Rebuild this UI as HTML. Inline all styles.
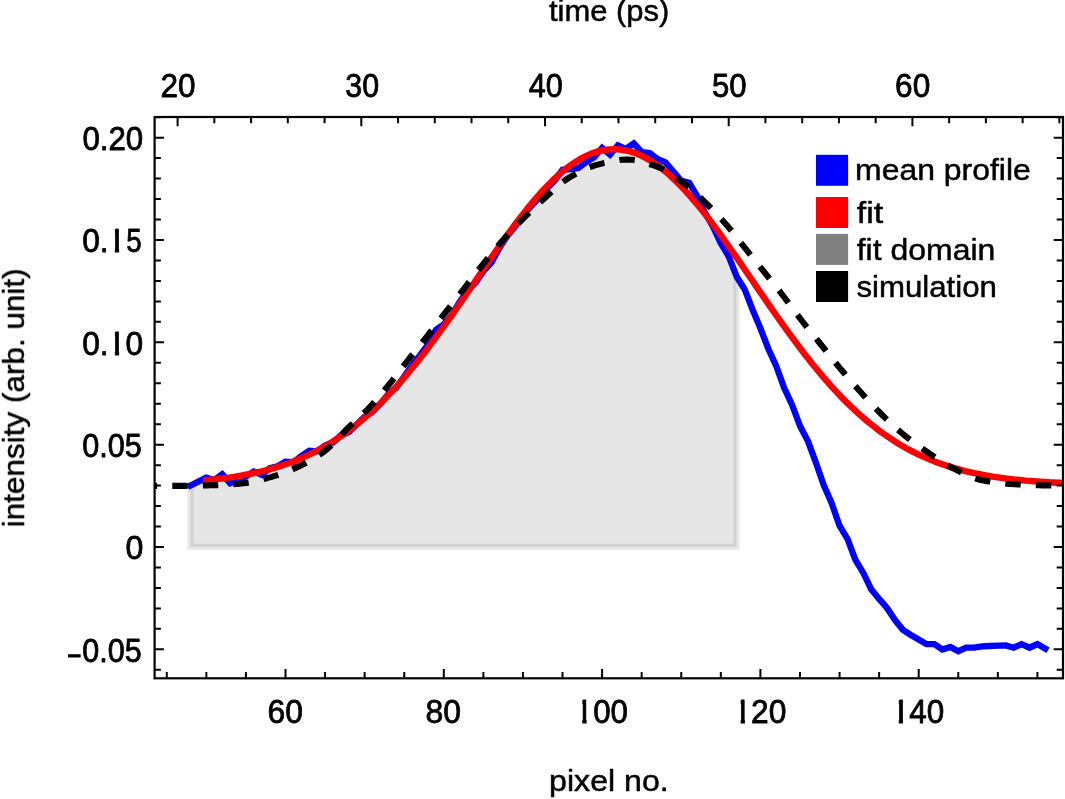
<!DOCTYPE html>
<html lang="en"><head><meta charset="utf-8"><title>intensity profile</title>
<style>html,body{margin:0;padding:0;background:#fff;}svg{display:block;}text{font-family:"Liberation Sans",sans-serif;fill:#000;stroke:#000;stroke-linejoin:round;}</style></head><body>
<svg width="1065" height="799" viewBox="0 0 1065 799">
<rect width="1065" height="799" fill="#fff"/>
<defs><clipPath id="plot"><rect x="154.6" y="117.0" width="908.4" height="561.3"/></clipPath></defs>
<g clip-path="url(#plot)" fill="none" stroke-linejoin="miter">
<polygon points="190.6,546.8 190.6,485.6 198.4,481.6 206.3,477.6 214.3,480.0 222.2,474.2 230.1,483.2 238.0,480.4 245.9,476.6 253.8,471.5 261.8,474.9 269.7,468.2 277.6,466.3 285.5,461.6 293.4,462.2 301.3,456.0 309.2,450.7 317.2,451.3 325.1,445.6 333.0,442.5 340.9,435.2 348.8,432.1 356.7,424.4 364.6,416.8 372.6,411.7 380.5,403.7 388.4,394.1 396.3,387.6 404.2,376.6 412.1,365.1 420.1,355.2 428.0,344.5 435.9,329.9 443.8,324.4 451.7,315.3 459.6,301.9 467.5,290.9 475.5,282.8 483.4,271.2 491.3,262.7 499.2,248.3 507.1,236.2 515.0,226.5 523.0,215.1 530.9,206.3 538.8,198.0 546.7,188.4 554.6,180.6 562.5,169.8 570.4,169.0 578.4,167.9 586.3,162.0 594.2,157.0 602.1,148.0 610.0,154.6 617.9,145.4 625.8,148.8 633.8,143.4 641.7,152.2 649.6,153.0 657.5,159.0 665.4,162.3 673.3,171.5 681.2,180.8 689.2,182.8 697.1,196.0 705.0,212.9 712.9,226.4 720.8,243.3 728.7,256.3 736.4,276.7 736.4,546.8" fill="#808080" fill-opacity="0.2" stroke="#808080" stroke-opacity="0.2" stroke-width="6" stroke-linejoin="miter"/>
<polyline points="190.5,485.6 198.4,481.6 206.3,477.6 214.3,480.0 222.2,474.2 230.1,483.2 238.0,480.4 245.9,476.6 253.8,471.5 261.8,474.9 269.7,468.2 277.6,466.3 285.5,461.6 293.4,462.2 301.3,456.0 309.2,450.7 317.2,451.3 325.1,445.6 333.0,442.5 340.9,435.2 348.8,432.1 356.7,424.4 364.6,416.8 372.6,411.7 380.5,403.7 388.4,394.1 396.3,387.6 404.2,376.6 412.1,365.1 420.1,355.2 428.0,344.5 435.9,329.9 443.8,324.4 451.7,315.3 459.6,301.9 467.5,290.9 475.5,282.8 483.4,271.2 491.3,262.7 499.2,248.3 507.1,236.2 515.0,226.5 523.0,215.1 530.9,206.3 538.8,198.0 546.7,188.4 554.6,180.6 562.5,169.8 570.4,169.0 578.4,167.9 586.3,162.0 594.2,157.0 602.1,148.0 610.0,154.6 617.9,145.4 625.8,148.8 633.8,143.4 641.7,152.2 649.6,153.0 657.5,159.0 665.4,162.3 673.3,171.5 681.2,180.8 689.2,182.8 697.1,196.0 705.0,212.9 712.9,226.4 720.8,243.3 728.7,256.3 736.7,276.7 744.6,289.2 752.5,309.5 760.4,328.3 768.3,348.7 776.2,365.9 784.1,387.8 792.1,405.0 800.0,426.0 807.9,441.1 815.8,462.3 823.7,485.1 831.6,503.0 839.5,525.7 847.5,538.8 855.4,559.9 863.3,572.9 871.2,589.2 879.1,598.9 887.0,608.0 895.0,620.1 902.9,629.8 910.8,635.0 918.7,639.5 926.6,644.1 934.5,644.1 942.4,649.6 950.4,647.0 958.3,651.2 966.2,647.7 974.1,647.7 982.0,646.4 989.9,646.0 997.9,645.7 1005.8,645.4 1013.7,647.7 1021.6,644.1 1029.5,647.7 1037.4,644.1 1045.3,648.6" stroke="#0000ff" stroke-width="6.3" stroke-linecap="square" stroke-linejoin="miter" stroke-miterlimit="3"/>
<polyline points="206.3,480.2 210.3,479.8 214.3,479.4 218.2,478.9 222.2,478.5 226.1,477.9 230.1,477.4 234.1,476.8 238.0,476.1 242.0,475.5 245.9,474.7 249.9,473.9 253.8,473.1 257.8,472.2 261.8,471.3 265.7,470.3 269.7,469.2 273.6,468.1 277.6,466.9 281.5,465.6 285.5,464.3 289.5,462.9 293.4,461.4 297.4,459.8 301.3,458.1 305.3,456.4 309.2,454.6 313.2,452.6 317.2,450.6 321.1,448.5 325.1,446.2 329.0,443.9 333.0,441.5 336.9,438.9 340.9,436.2 344.9,433.5 348.8,430.6 352.8,427.6 356.7,424.4 360.7,421.2 364.6,417.8 368.6,414.4 372.6,410.7 376.5,407.0 380.5,403.2 384.4,399.2 388.4,395.1 392.4,390.9 396.3,386.6 400.3,382.1 404.2,377.6 408.2,372.9 412.1,368.1 416.1,363.2 420.1,358.2 424.0,353.2 428.0,348.0 431.9,342.7 435.9,337.4 439.8,331.9 443.8,326.4 447.8,320.9 451.7,315.3 455.7,309.6 459.6,303.9 463.6,298.1 467.5,292.4 471.5,286.6 475.5,280.8 479.4,275.0 483.4,269.2 487.3,263.4 491.3,257.7 495.2,252.0 499.2,246.3 503.2,240.8 507.1,235.2 511.1,229.8 515.0,224.5 519.0,219.2 523.0,214.1 526.9,209.1 530.9,204.3 534.8,199.6 538.8,195.0 542.7,190.6 546.7,186.4 550.7,182.4 554.6,178.6 558.6,174.9 562.5,171.5 566.5,168.3 570.4,165.3 574.4,162.6 578.4,160.1 582.3,157.9 586.3,155.9 590.2,154.1 594.2,152.6 598.1,151.4 602.1,150.5 606.1,149.8 610.0,149.4 614.0,149.2 617.9,149.4 621.9,149.8 625.8,150.5 629.8,151.4 633.8,152.6 637.7,154.1 641.7,155.9 645.6,157.9 649.6,160.1 653.5,162.6 657.5,165.3 661.5,168.3 665.4,171.5 669.4,174.9 673.3,178.6 677.3,182.4 681.2,186.4 685.2,190.6 689.2,195.0 693.1,199.6 697.1,204.3 701.0,209.1 705.0,214.1 709.0,219.2 712.9,224.5 716.9,229.8 720.8,235.2 724.8,240.8 728.7,246.3 732.7,252.0 736.7,257.7 740.6,263.4 744.6,269.2 748.5,275.0 752.5,280.8 756.4,286.6 760.4,292.4 764.4,298.1 768.3,303.9 772.3,309.6 776.2,315.3 780.2,320.9 784.1,326.4 788.1,331.9 792.1,337.4 796.0,342.7 800.0,348.0 803.9,353.2 807.9,358.2 811.8,363.2 815.8,368.1 819.8,372.9 823.7,377.6 827.7,382.1 831.6,386.6 835.6,390.9 839.5,395.1 843.5,399.2 847.5,403.2 851.4,407.0 855.4,410.7 859.3,414.4 863.3,417.8 867.3,421.2 871.2,424.4 875.2,427.6 879.1,430.6 883.1,433.5 887.0,436.2 891.0,438.9 895.0,441.5 898.9,443.9 902.9,446.2 906.8,448.5 910.8,450.6 914.7,452.6 918.7,454.6 922.7,456.4 926.6,458.1 930.6,459.8 934.5,461.4 938.5,462.9 942.4,464.3 946.4,465.6 950.4,466.9 954.3,468.1 958.3,469.2 962.2,470.3 966.2,471.3 970.1,472.2 974.1,473.1 978.1,473.9 982.0,474.7 986.0,475.5 989.9,476.1 993.9,476.8 997.9,477.4 1001.8,477.9 1005.8,478.5 1009.7,478.9 1013.7,479.4 1017.6,479.8 1021.6,480.2 1025.6,480.6 1029.5,480.9 1033.5,481.2 1037.4,481.5 1041.4,481.8 1045.3,482.0 1049.3,482.3 1053.3,482.5 1057.2,482.7 1061.2,482.8 1065.1,483.0 1069.1,483.2 1073.0,483.3 1077.0,483.4" stroke="#ff0000" stroke-width="6.4" stroke-linecap="square" stroke-linejoin="round"/>
<polyline points="141.7,485.9 143.7,485.9 145.7,485.9 147.7,485.9 149.7,485.9 151.7,485.9 153.7,485.9 155.7,485.9 157.7,485.9 159.7,485.9 161.7,485.9 163.7,485.9 165.7,485.9 167.7,485.9 169.7,485.9 171.7,485.9 173.7,485.9 175.7,485.9 177.7,485.9 179.7,485.9 181.7,485.9 183.7,485.9 185.7,485.9 187.7,485.8 189.7,485.8 191.7,485.8 193.7,485.7 195.7,485.7 197.7,485.7 199.7,485.6 201.7,485.6 203.7,485.5 205.7,485.4 207.7,485.4 209.7,485.3 211.7,485.3 213.7,485.2 215.7,485.1 217.7,485.1 219.7,485.0 221.7,484.9 223.7,484.8 225.7,484.7 227.7,484.6 229.7,484.5 231.7,484.3 233.7,484.2 235.7,484.0 237.7,483.9 239.7,483.7 241.7,483.5 243.7,483.3 245.7,483.0 247.7,482.7 249.7,482.4 251.7,482.0 253.7,481.5 255.7,481.1 257.7,480.6 259.7,480.1 261.7,479.6 263.7,479.0 265.7,478.5 267.7,477.9 269.7,477.4 271.7,476.8 273.7,476.2 275.7,475.6 277.7,475.0 279.7,474.3 281.7,473.6 283.7,472.9 285.7,472.1 287.7,471.3 289.7,470.5 291.7,469.7 293.7,468.8 295.7,467.9 297.7,467.0 299.7,466.1 301.7,465.1 303.7,464.1 305.7,463.1 307.7,462.0 309.7,460.9 311.7,459.7 313.7,458.5 315.7,457.2 317.7,455.9 319.7,454.6 321.7,453.2 323.7,451.7 325.7,450.2 327.7,448.6 329.7,446.8 331.7,444.9 333.7,442.9 335.7,440.8 337.7,438.7 339.7,436.5 341.7,434.4 343.7,432.3 345.7,430.2 347.7,428.2 349.7,426.3 351.7,424.4 353.7,422.6 355.7,420.7 357.7,418.9 359.7,417.0 361.7,415.1 363.7,413.2 365.7,411.3 367.7,409.3 369.7,407.2 371.7,405.0 373.7,402.8 375.7,400.5 377.7,398.2 379.7,395.9 381.7,393.5 383.7,391.1 385.7,388.6 387.7,386.2 389.7,383.8 391.7,381.3 393.7,378.7 395.7,376.2 397.7,373.6 399.7,370.9 401.7,368.3 403.7,365.7 405.7,363.1 407.7,360.5 409.7,358.0 411.7,355.5 413.7,353.0 415.7,350.5 417.7,348.0 419.7,345.6 421.7,343.1 423.7,340.6 425.7,338.0 427.7,335.5 429.7,332.9 431.7,330.4 433.7,327.8 435.7,325.2 437.7,322.5 439.7,319.9 441.7,317.3 443.7,314.7 445.7,312.1 447.7,309.6 449.7,307.0 451.7,304.4 453.7,301.9 455.7,299.3 457.7,296.7 459.7,294.2 461.7,291.6 463.7,289.1 465.7,286.5 467.7,283.9 469.7,281.3 471.7,278.7 473.7,276.2 475.7,273.6 477.7,271.0 479.7,268.5 481.7,265.9 483.7,263.4 485.7,260.9 487.7,258.4 489.7,255.9 491.7,253.4 493.7,250.9 495.7,248.5 497.7,246.1 499.7,243.7 501.7,241.4 503.7,239.2 505.7,237.0 507.7,234.8 509.7,232.7 511.7,230.5 513.7,228.4 515.7,226.3 517.7,224.2 519.7,222.2 521.7,220.1 523.7,218.1 525.7,216.1 527.7,214.1 529.7,212.1 531.7,210.2 533.7,208.3 535.7,206.4 537.7,204.5 539.7,202.6 541.7,200.8 543.7,199.0 545.7,197.2 547.7,195.3 549.7,193.5 551.7,191.7 553.7,189.8 555.7,188.1 557.7,186.3 559.7,184.6 561.7,183.0 563.7,181.4 565.7,179.9 567.7,178.6 569.7,177.3 571.7,176.2 573.7,175.0 575.7,173.9 577.7,172.8 579.7,171.8 581.7,170.8 583.7,169.8 585.7,168.9 587.7,168.0 589.7,167.2 591.7,166.5 593.7,165.8 595.7,165.2 597.7,164.6 599.7,164.1 601.7,163.6 603.7,163.1 605.7,162.7 607.7,162.2 609.7,161.7 611.7,161.3 613.7,160.9 615.7,160.6 617.7,160.3 619.7,160.0 621.7,159.8 623.7,159.7 625.7,159.6 627.7,159.6 629.7,159.7 631.7,159.8 633.7,160.1 635.7,160.4 637.7,160.8 639.7,161.2 641.7,161.7 643.7,162.3 645.7,162.8 647.7,163.5 649.7,164.1 651.7,164.8 653.7,165.4 655.7,166.1 657.7,166.8 659.7,167.6 661.7,168.5 663.7,169.6 665.7,170.7 667.7,171.9 669.7,173.2 671.7,174.5 673.7,175.9 675.7,177.3 677.7,178.8 679.7,180.2 681.7,181.7 683.7,183.2 685.7,184.7 687.7,186.3 689.7,188.0 691.7,189.7 693.7,191.5 695.7,193.3 697.7,195.1 699.7,197.0 701.7,198.9 703.7,200.9 705.7,202.8 707.7,204.8 709.7,206.7 711.7,208.8 713.7,210.8 715.7,212.9 717.7,215.1 719.7,217.3 721.7,219.5 723.7,221.7 725.7,224.0 727.7,226.3 729.7,228.7 731.7,231.1 733.7,233.6 735.7,236.1 737.7,238.7 739.7,241.3 741.7,243.8 743.7,246.4 745.7,248.9 747.7,251.4 749.7,253.9 751.7,256.4 753.7,258.9 755.7,261.4 757.7,263.9 759.7,266.4 761.7,268.9 763.7,271.4 765.7,273.9 767.7,276.4 769.7,278.9 771.7,281.4 773.7,283.8 775.7,286.3 777.7,288.9 779.7,291.4 781.7,294.0 783.7,296.5 785.7,299.2 787.7,301.8 789.7,304.5 791.7,307.2 793.7,309.9 795.7,312.6 797.7,315.3 799.7,317.9 801.7,320.5 803.7,323.1 805.7,325.6 807.7,328.1 809.7,330.6 811.7,333.1 813.7,335.6 815.7,338.0 817.7,340.5 819.7,343.0 821.7,345.5 823.7,348.0 825.7,350.5 827.7,353.0 829.7,355.6 831.7,358.1 833.7,360.6 835.7,363.0 837.7,365.5 839.7,367.9 841.7,370.3 843.7,372.6 845.7,375.0 847.7,377.3 849.7,379.7 851.7,382.0 853.7,384.3 855.7,386.5 857.7,388.8 859.7,391.0 861.7,393.2 863.7,395.5 865.7,397.7 867.7,399.9 869.7,402.0 871.7,404.2 873.7,406.3 875.7,408.4 877.7,410.5 879.7,412.5 881.7,414.5 883.7,416.5 885.7,418.4 887.7,420.3 889.7,422.2 891.7,424.1 893.7,426.0 895.7,427.8 897.7,429.6 899.7,431.3 901.7,433.0 903.7,434.7 905.7,436.3 907.7,437.9 909.7,439.4 911.7,441.0 913.7,442.4 915.7,443.9 917.7,445.4 919.7,446.8 921.7,448.2 923.7,449.6 925.7,450.9 927.7,452.3 929.7,453.7 931.7,455.0 933.7,456.4 935.7,457.7 937.7,459.0 939.7,460.4 941.7,461.6 943.7,462.9 945.7,464.1 947.7,465.3 949.7,466.5 951.7,467.6 953.7,468.6 955.7,469.6 957.7,470.6 959.7,471.6 961.7,472.6 963.7,473.6 965.7,474.5 967.7,475.5 969.7,476.3 971.7,477.2 973.7,477.9 975.7,478.6 977.7,479.2 979.7,479.8 981.7,480.2 983.7,480.6 985.7,480.9 987.7,481.3 989.7,481.6 991.7,481.9 993.7,482.2 995.7,482.5 997.7,482.7 999.7,483.0 1001.7,483.2 1003.7,483.4 1005.7,483.6 1007.7,483.7 1009.7,483.9 1011.7,484.0 1013.7,484.2 1015.7,484.3 1017.7,484.4 1019.7,484.5 1021.7,484.6 1023.7,484.7 1025.7,484.8 1027.7,484.9 1029.7,485.0 1031.7,485.1 1033.7,485.2 1035.7,485.2 1037.7,485.3 1039.7,485.3 1041.7,485.4 1043.7,485.4 1045.7,485.4 1047.7,485.5 1049.7,485.5 1051.7,485.5 1053.7,485.5 1055.7,485.6 1057.7,485.6 1059.7,485.6 1061.7,485.6 1063.7,485.7 1065.7,485.7 1067.7,485.7 1069.7,485.7 1071.7,485.7 1073.7,485.7" stroke="#000" stroke-width="6.1" stroke-dasharray="15.4 15.18" stroke-linejoin="round"/>
</g>
<g stroke="#000" fill="none" stroke-linecap="butt">
<rect x="154.6" y="117.0" width="908.4" height="561.3" stroke-width="2.2"/>
<path d="M177.60 117.0v9.3M214.34 117.0v6.3M251.08 117.0v6.3M287.82 117.0v6.3M324.56 117.0v6.3M361.30 117.0v9.3M398.04 117.0v6.3M434.78 117.0v6.3M471.52 117.0v6.3M508.26 117.0v6.3M545.00 117.0v9.3M581.74 117.0v6.3M618.48 117.0v6.3M655.22 117.0v6.3M691.96 117.0v6.3M728.70 117.0v9.3M765.44 117.0v6.3M802.18 117.0v6.3M838.92 117.0v6.3M875.66 117.0v6.3M912.40 117.0v9.3M949.14 117.0v6.3M985.88 117.0v6.3M1022.62 117.0v6.3M1059.36 117.0v6.3M166.78 678.3v-6.3M206.35 678.3v-6.3M245.93 678.3v-6.3M285.50 678.3v-9.3M325.07 678.3v-6.3M364.65 678.3v-6.3M404.23 678.3v-6.3M443.80 678.3v-9.3M483.38 678.3v-6.3M522.95 678.3v-6.3M562.52 678.3v-6.3M602.10 678.3v-9.3M641.67 678.3v-6.3M681.25 678.3v-6.3M720.83 678.3v-6.3M760.40 678.3v-9.3M799.98 678.3v-6.3M839.55 678.3v-6.3M879.12 678.3v-6.3M918.70 678.3v-9.3M958.27 678.3v-6.3M997.85 678.3v-6.3M1037.42 678.3v-6.3M154.6 669.81h6.3M1063.0 669.81h-6.3M154.6 649.34h9.3M1063.0 649.34h-9.3M154.6 628.87h6.3M1063.0 628.87h-6.3M154.6 608.40h6.3M1063.0 608.40h-6.3M154.6 587.94h6.3M1063.0 587.94h-6.3M154.6 567.47h6.3M1063.0 567.47h-6.3M154.6 547.00h9.3M1063.0 547.00h-9.3M154.6 526.53h6.3M1063.0 526.53h-6.3M154.6 506.06h6.3M1063.0 506.06h-6.3M154.6 485.60h6.3M1063.0 485.60h-6.3M154.6 465.13h6.3M1063.0 465.13h-6.3M154.6 444.66h9.3M1063.0 444.66h-9.3M154.6 424.19h6.3M1063.0 424.19h-6.3M154.6 403.72h6.3M1063.0 403.72h-6.3M154.6 383.26h6.3M1063.0 383.26h-6.3M154.6 362.79h6.3M1063.0 362.79h-6.3M154.6 342.32h9.3M1063.0 342.32h-9.3M154.6 321.85h6.3M1063.0 321.85h-6.3M154.6 301.38h6.3M1063.0 301.38h-6.3M154.6 280.92h6.3M1063.0 280.92h-6.3M154.6 260.45h6.3M1063.0 260.45h-6.3M154.6 239.98h9.3M1063.0 239.98h-9.3M154.6 219.51h6.3M1063.0 219.51h-6.3M154.6 199.04h6.3M1063.0 199.04h-6.3M154.6 178.58h6.3M1063.0 178.58h-6.3M154.6 158.11h6.3M1063.0 158.11h-6.3M154.6 137.64h9.3M1063.0 137.64h-9.3M154.6 117.17h6.3M1063.0 117.17h-6.3" stroke-width="2.0"/>
</g>
<g style="opacity:0.999">
<text x="548.94" y="21.00" font-size="30" stroke-width="0.5" textLength="120.30" lengthAdjust="spacingAndGlyphs">time (ps)</text>
<text x="160.51" y="97.20" font-size="33.0" stroke-width="0.8" textLength="35.02" lengthAdjust="spacingAndGlyphs">20</text>
<text x="345.31" y="97.20" font-size="33.0" stroke-width="0.8" textLength="33.78" lengthAdjust="spacingAndGlyphs">30</text>
<text x="528.67" y="97.20" font-size="33.0" stroke-width="0.8" textLength="34.13" lengthAdjust="spacingAndGlyphs">40</text>
<text x="711.89" y="97.20" font-size="33.0" stroke-width="0.8" textLength="34.62" lengthAdjust="spacingAndGlyphs">50</text>
<text x="895.10" y="97.20" font-size="33.0" stroke-width="0.8" textLength="35.12" lengthAdjust="spacingAndGlyphs">60</text>
<text x="82.39" y="150.04" font-size="33.0" stroke-width="0.8" textLength="60.84" lengthAdjust="spacingAndGlyphs">0.20</text>
<text x="82.18" y="252.38" font-size="33.0" stroke-width="0.8" textLength="26.45" lengthAdjust="spacingAndGlyphs">0.</text>
<clipPath id="c1"><rect x="114.90" y="228.13" width="4.20" height="25.75"/></clipPath>
<text x="107.25" y="252.38" font-size="33.0" stroke-width="0.8" clip-path="url(#c1)">1</text>
<text x="126.27" y="252.38" font-size="33.0" stroke-width="0.8" textLength="15.45" lengthAdjust="spacingAndGlyphs">5</text>
<text x="82.18" y="354.72" font-size="33.0" stroke-width="0.8" textLength="26.45" lengthAdjust="spacingAndGlyphs">0.</text>
<clipPath id="c2"><rect x="114.90" y="330.47" width="4.20" height="25.75"/></clipPath>
<text x="107.25" y="354.72" font-size="33.0" stroke-width="0.8" clip-path="url(#c2)">1</text>
<text x="125.58" y="354.72" font-size="33.0" stroke-width="0.8" textLength="17.65" lengthAdjust="spacingAndGlyphs">0</text>
<text x="82.30" y="457.06" font-size="33.0" stroke-width="0.8" textLength="59.61" lengthAdjust="spacingAndGlyphs">0.05</text>
<text x="125.57" y="559.40" font-size="33.0" stroke-width="0.8" textLength="17.87" lengthAdjust="spacingAndGlyphs">0</text>
<text x="82.31" y="661.74" font-size="33.0" stroke-width="0.8" textLength="59.40" lengthAdjust="spacingAndGlyphs">0.05</text>
<text x="68.33" y="663.64" font-size="33.0" stroke-width="0.8" textLength="12.11" lengthAdjust="spacingAndGlyphs">–</text>
<text transform="translate(24.00 527.34) rotate(-90)" font-size="30" stroke-width="0.5" textLength="258.94" lengthAdjust="spacingAndGlyphs">intensity (arb. unit)</text>
<text x="267.59" y="722.50" font-size="33.0" stroke-width="0.8" textLength="35.44" lengthAdjust="spacingAndGlyphs">60</text>
<text x="425.53" y="722.50" font-size="33.0" stroke-width="0.8" textLength="35.50" lengthAdjust="spacingAndGlyphs">80</text>
<clipPath id="c3"><rect x="582.35" y="698.25" width="4.20" height="25.75"/></clipPath>
<text x="574.70" y="722.50" font-size="33.0" stroke-width="0.8" clip-path="url(#c3)">1</text>
<text x="593.19" y="722.50" font-size="33.0" stroke-width="0.8" textLength="34.83" lengthAdjust="spacingAndGlyphs">00</text>
<clipPath id="c4"><rect x="740.70" y="698.25" width="4.20" height="25.75"/></clipPath>
<text x="733.05" y="722.50" font-size="33.0" stroke-width="0.8" clip-path="url(#c4)">1</text>
<text x="751.00" y="722.50" font-size="33.0" stroke-width="0.8" textLength="35.34" lengthAdjust="spacingAndGlyphs">20</text>
<clipPath id="c5"><rect x="898.80" y="698.25" width="4.20" height="25.75"/></clipPath>
<text x="891.15" y="722.50" font-size="33.0" stroke-width="0.8" clip-path="url(#c5)">1</text>
<text x="909.36" y="722.50" font-size="33.0" stroke-width="0.8" textLength="34.96" lengthAdjust="spacingAndGlyphs">40</text>
<text x="549.13" y="791.00" font-size="30" stroke-width="0.5" textLength="119.55" lengthAdjust="spacingAndGlyphs">pixel no.</text>
<text x="855.14" y="180.40" font-size="30" stroke-width="0.5" textLength="175.63" lengthAdjust="spacingAndGlyphs">mean profile</text>
<text x="856.72" y="222.70" font-size="30" stroke-width="0.5" textLength="26.41" lengthAdjust="spacingAndGlyphs">fit</text>
<text x="856.73" y="259.70" font-size="30" stroke-width="0.5" textLength="138.65" lengthAdjust="spacingAndGlyphs">fit domain</text>
<text x="856.48" y="296.60" font-size="30" stroke-width="0.5" textLength="140.44" lengthAdjust="spacingAndGlyphs">simulation</text>
</g>
<rect x="816" y="154.8" width="32.1" height="31" fill="#0000ff"/>
<rect x="816" y="197.0" width="32.1" height="31" fill="#ff0000"/>
<rect x="816" y="233.9" width="32.1" height="31" fill="#808080"/>
<rect x="816" y="271.0" width="32.1" height="31" fill="#000000"/>
</svg></body></html>
